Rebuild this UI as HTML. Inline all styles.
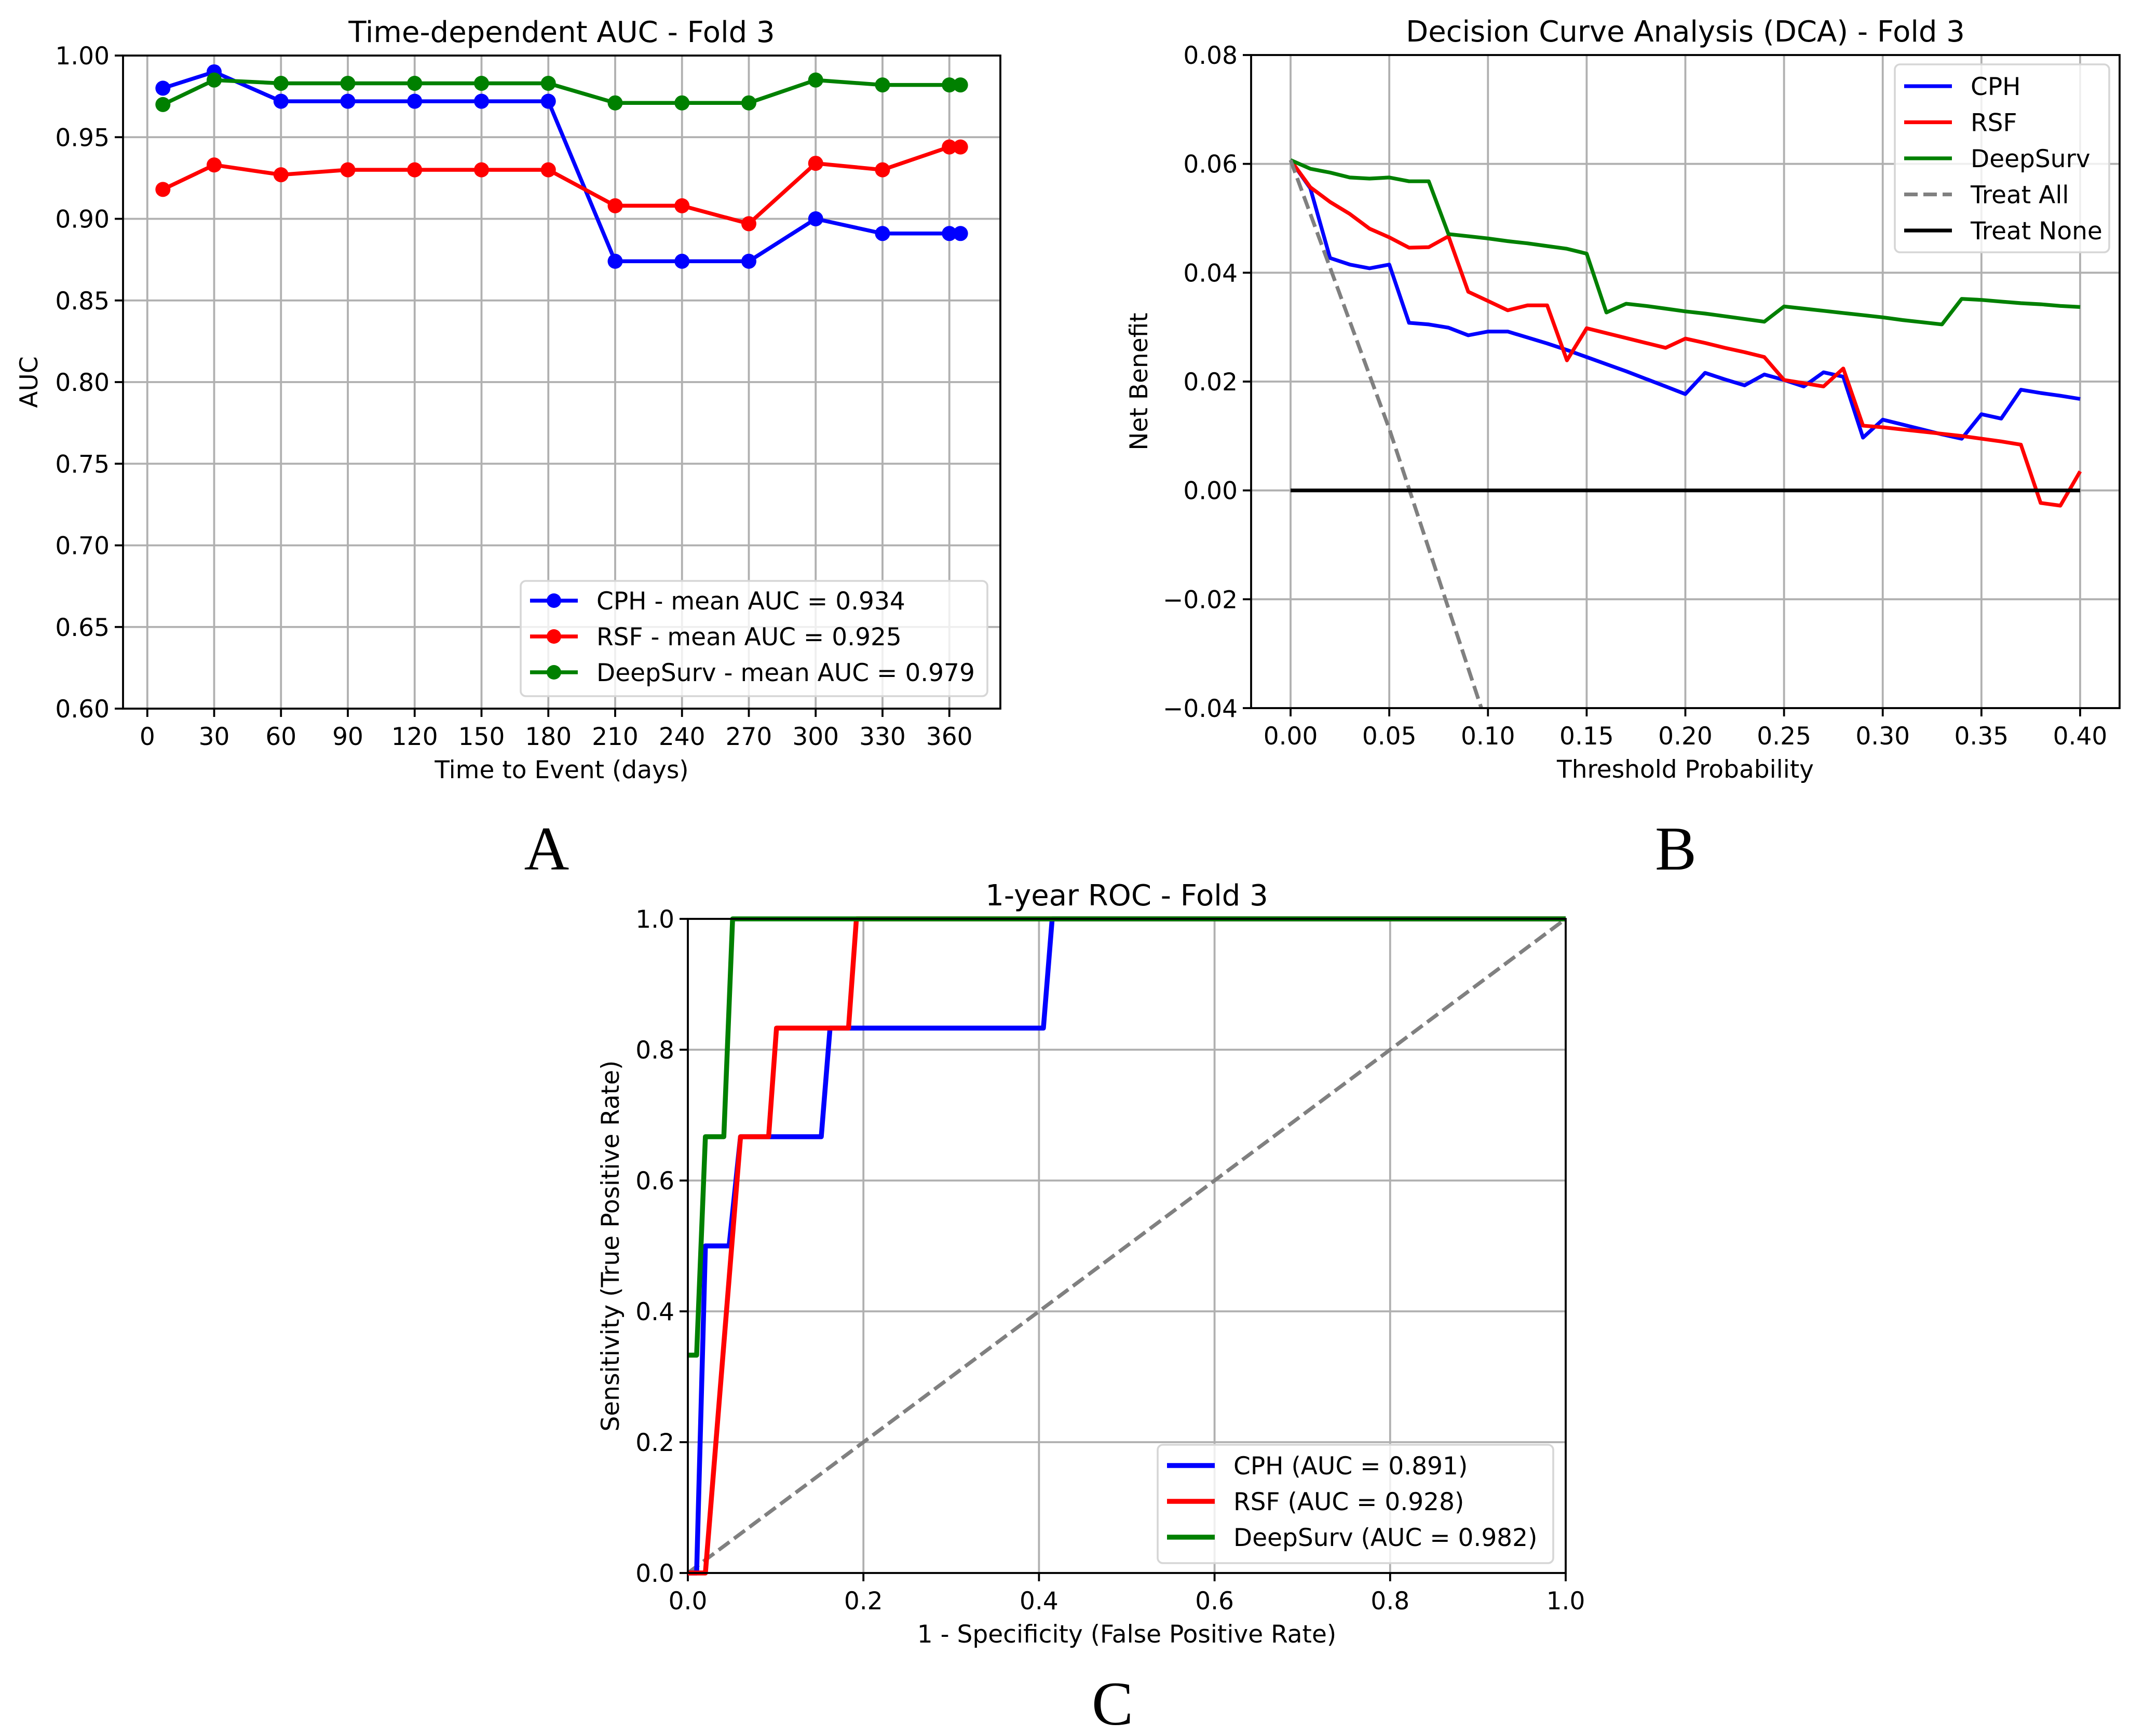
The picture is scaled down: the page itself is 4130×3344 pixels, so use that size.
<!DOCTYPE html>
<html><head><meta charset="utf-8">
<style>
html,body{margin:0;padding:0;background:#fff;}
svg{display:block;font-family:"DejaVu Sans","Liberation Sans",sans-serif;}
</style></head>
<body>
<svg id="fig" width="4130" height="3344" viewBox="0 0 4130 3344" xmlns="http://www.w3.org/2000/svg">
<rect width="4130" height="3344" fill="#fff"/>
<defs>
<clipPath id="clipB"><rect x="2410" y="106" width="1673" height="1258"/></clipPath>
</defs>
<text x="1053" y="1675" font-family="Liberation Serif, serif" font-size="120" text-anchor="middle">A</text>
<text x="3228" y="1675" font-family="Liberation Serif, serif" font-size="120" text-anchor="middle">B</text>
<text x="2143" y="3322" font-family="Liberation Serif, serif" font-size="120" text-anchor="middle">C</text>
</svg>
<script>
// ---- Panel A data ----
const aDays = [7,30,60,90,120,150,180,210,240,270,300,330,360,365];
const aCPH = [0.980,0.990,0.972,0.972,0.972,0.972,0.972,0.874,0.874,0.874,0.900,0.891,0.891,0.891];
const aRSF = [0.918,0.933,0.927,0.930,0.930,0.930,0.930,0.908,0.908,0.897,0.934,0.930,0.944,0.944];
const aDeep = [0.970,0.985,0.983,0.983,0.983,0.983,0.983,0.971,0.971,0.971,0.985,0.982,0.982,0.982];
const aXTicks = [0,30,60,90,120,150,180,210,240,270,300,330,360];
const aYTicks = [0.60,0.65,0.70,0.75,0.80,0.85,0.90,0.95,1.00];
const aLegend = ["CPH - mean AUC = 0.934","RSF - mean AUC = 0.925","DeepSurv - mean AUC = 0.979"];
// ---- Panel B data ----
const bThresh = [0,0.01,0.02,0.03,0.04,0.05,0.06,0.07,0.08,0.09,0.10,0.11,0.12,0.13,0.14,0.15,0.16,0.17,0.18,0.19,0.20,0.21,0.22,0.23,0.24,0.25,0.26,0.27,0.28,0.29,0.30,0.31,0.32,0.33,0.34,0.35,0.36,0.37,0.38,0.39,0.40];
const bCPH = [.0607,.0555,.0427,.0415,.0408,.0415,.0308,.0305,.0299,.0285,.0292,.0292,.0281,.0270,.0258,.0245,.0232,.0219,.0205,.0191,.0177,.0216,.0204,.0193,.0213,.0203,.0191,.0217,.0209,.0097,.0130,.0121,.0112,.0103,.0095,.0140,.0132,.0185,.0179,.0174,.0168];
const bRSF = [.0607,.0557,.0530,.0508,.0481,.0465,.0446,.0447,.0467,.0365,.0348,.0331,.0340,.0340,.0239,.0298,.0289,.0280,.0271,.0262,.0279,.0271,.0262,.0254,.0245,.0203,.0197,.0191,.0224,.0119,.0116,.0112,.0108,.0104,.0100,.0095,.0090,.0084,-.0023,-.0028,.0035];
const bDeep = [.0607,.0591,.0584,.0575,.0573,.0575,.0568,.0568,.0471,.0467,.0463,.0458,.0454,.0449,.0444,.0435,.0327,.0343,.0339,.0334,.0329,.0325,.0320,.0315,.0310,.0338,.0334,.0330,.0326,.0322,.0318,.0313,.0309,.0305,.0352,.0350,.0347,.0344,.0342,.0339,.0337];
const bAllX = [0,0.05,0.10,0.15];
const bAllY = [0.0607,0.0113,-0.0437,-0.1050];
const bNoneX = [0,0.40];
const bNoneY = [0,0];
const bXTicks = [0,0.05,0.10,0.15,0.20,0.25,0.30,0.35,0.40];
const bYTicks = [-0.04,-0.02,0.00,0.02,0.04,0.06,0.08];
const bLegend = ["CPH","RSF","DeepSurv","Treat All","Treat None"];
// ---- Panel C data ----
const cCPHx = [0,0.01,0.02,0.047,0.06,0.152,0.162,0.405,0.415,1];
const cCPHy = [0,0,0.5,0.5,0.667,0.667,0.833,0.833,1,1];
const cRSFx = [0,0.02,0.06,0.092,0.101,0.183,0.192,1];
const cRSFy = [0,0,0.667,0.667,0.833,0.833,1,1];
const cDeepx = [0,0.01,0.02,0.041,0.051,1];
const cDeepy = [0.333,0.333,0.667,0.667,1,1];
const cDiagX = [0,1];
const cDiagY = [0,1];
const cXTicks = [0,0.2,0.4,0.6,0.8,1.0];
const cYTicks = [0,0.2,0.4,0.6,0.8,1.0];
const cLegend = ["CPH (AUC = 0.891)","RSF (AUC = 0.928)","DeepSurv (AUC = 0.982)"];

const NS="http://www.w3.org/2000/svg";
const svg=document.getElementById('fig');
const FS=47;
function mk(tag,attrs,parent){const e=document.createElementNS(NS,tag);for(const k in attrs)e.setAttribute(k,attrs[k]);(parent||svg).appendChild(e);return e;}
function txt(s,attrs,parent){const e=mk('text',attrs,parent);e.textContent=s;return e;}

function axes(cfg){
  const g=mk('g',{});
  
  
  const sx=v=>cfg.L+(v-cfg.x0)/(cfg.x1-cfg.x0)*(cfg.R-cfg.L);
  const sy=v=>cfg.B-(v-cfg.y0)/(cfg.y1-cfg.y0)*(cfg.B-cfg.T);
  cfg.xt.forEach(v=>{const l=mk('line',{x1:sx(v),x2:sx(v),y1:cfg.T,y2:cfg.B,stroke:'#b0b0b0','stroke-width':3.8},g);
    });
  cfg.yt.forEach(v=>{const l=mk('line',{x1:cfg.L,x2:cfg.R,y1:sy(v),y2:sy(v),stroke:'#b0b0b0','stroke-width':3.8},g);
    });
  cfg.xt.forEach(v=>{mk('line',{x1:sx(v),x2:sx(v),y1:cfg.B,y2:cfg.B+16,stroke:'#000','stroke-width':3.8},g);
    const t=txt(cfg.xf(v),{x:sx(v),y:cfg.B+70,'font-size':FS,'text-anchor':'middle'},g);
    });
  cfg.yt.forEach(v=>{mk('line',{x1:cfg.L-16,x2:cfg.L,y1:sy(v),y2:sy(v),stroke:'#000','stroke-width':3.8},g);
    const t=txt(cfg.yf(v),{x:cfg.L-26,y:sy(v)+17,'font-size':FS,'text-anchor':'end'},g);
    });
  const tt=txt(cfg.title,{x:(cfg.L+cfg.R)/2,y:cfg.T-26,'font-size':56,'text-anchor':'middle'},g);
  
  const xl=txt(cfg.xlabel,{x:(cfg.L+cfg.R)/2,y:cfg.B+134,'font-size':FS,'text-anchor':'middle'},g);
  
  const yl=txt(cfg.ylabel,{x:0,y:0,'font-size':FS,'text-anchor':'middle',transform:`translate(${cfg.ylx},${(cfg.T+cfg.B)/2}) rotate(-90)`},g);
  
  return {g,sx,sy};
}
function frame(cfg,g){const r=mk('rect',{x:cfg.L,y:cfg.T,width:cfg.R-cfg.L,height:cfg.B-cfg.T,fill:'none',stroke:'#000','stroke-width':3.8},g);
  }
function line(ax,xs,ys,attrs,name,parent){
  const pts=xs.map((x,i)=>ax.sx(x).toFixed(1)+','+ax.sy(ys[i]).toFixed(1)).join(' ');
  const p=mk('polyline',Object.assign({points:pts,fill:'none','stroke-linejoin':'round'},attrs),parent||ax.g);
  return p;}
function legend(x,y,w,h,items,gap,fs,lineW,parent){
  const g=mk('g',{},parent);
  
  mk('rect',{x,y,width:w,height:h,rx:10,fill:'#fff','fill-opacity':0.8,stroke:'#d6d6d6','stroke-width':3.6},g);
  items.forEach((it,i)=>{const cy=y+it.off+i*gap;
    const e=mk('g',{},g);
    
    const a={x1:x+18,x2:x+110,y1:cy,y2:cy,stroke:it.c,'stroke-width':lineW};
    if(it.dash)a['stroke-dasharray']=it.dash;
    mk('line',a,e);
    if(it.m)mk('circle',{cx:x+64,cy,r:14,fill:it.c},e);
    txt(it.t,{x:x+146,y:cy+17,'font-size':fs},e);});
}

// ---- Panel A ----
const cA={name:'time-dependent-auc-chart',L:237,R:1927,T:107,B:1365,x0:-10.9,x1:382.9,y0:0.60,y1:1.00,xt:aXTicks,yt:aYTicks,
 xf:v=>String(v),yf:v=>v.toFixed(2),title:'Time-dependent AUC - Fold 3',xlabel:'Time to Event (days)',ylabel:'AUC',ylx:72};
const axA=axes(cA);
[[aCPH,'#0000ff','cph'],[aRSF,'#ff0000','rsf'],[aDeep,'#008000','deepsurv']].forEach(([ys,c,n])=>{
  line(axA,aDays,ys,{stroke:c,'stroke-width':7.5},'line-'+n);
  aDays.forEach((d,i)=>{const m=mk('circle',{cx:axA.sx(d),cy:axA.sy(ys[i]),r:14.5,fill:c},axA.g);
    });
});
frame(cA,axA.g);
legend(1003,1119,899,222,[{c:'#0000ff',t:aLegend[0],m:1,off:38},{c:'#ff0000',t:aLegend[1],m:1,off:38},{c:'#008000',t:aLegend[2],m:1,off:38}],69,FS,7.5,axA.g);

// ---- Panel B ----
const cB={name:'decision-curve-chart',L:2410,R:4083,T:106,B:1364,x0:-0.02,x1:0.42,y0:-0.04,y1:0.08,xt:bXTicks,yt:bYTicks,
 xf:v=>v.toFixed(2),yf:v=>(v<0?'\u2212':'')+Math.abs(v).toFixed(2),title:'Decision Curve Analysis (DCA) - Fold 3',xlabel:'Threshold Probability',ylabel:'Net Benefit',ylx:2210};
const axB=axes(cB);
const gB=mk('g',{'clip-path':'url(#clipB)'},axB.g);

line(axB,bThresh,bCPH,{stroke:'#0000ff','stroke-width':7.2},'line-cph',gB);
line(axB,bThresh,bRSF,{stroke:'#ff0000','stroke-width':7.2},'line-rsf',gB);
line(axB,bThresh,bDeep,{stroke:'#008000','stroke-width':7.2},'line-deepsurv',gB);
line(axB,bAllX,bAllY,{stroke:'#808080','stroke-width':7.2,'stroke-dasharray':'26,11'},'line-treat-all',gB);
line(axB,bNoneX,bNoneY,{stroke:'#000','stroke-width':7.2},'line-treat-none',gB);
frame(cB,axB.g);
legend(3650,124,413,362,[{c:'#0000ff',t:bLegend[0],off:42},{c:'#ff0000',t:bLegend[1],off:42},{c:'#008000',t:bLegend[2],off:42},{c:'#808080',t:bLegend[3],dash:'26,11',off:42},{c:'#000',t:bLegend[4],off:42}],69.5,FS,7.2,axB.g);

// ---- Panel C ----
const cC={name:'roc-chart',L:1325,R:3016,T:1770,B:3030,x0:0,x1:1,y0:0,y1:1,xt:cXTicks,yt:cYTicks,
 xf:v=>v.toFixed(1),yf:v=>v.toFixed(1),title:'1-year ROC - Fold 3',xlabel:'1 - Specificity (False Positive Rate)',ylabel:'Sensitivity (True Positive Rate)',ylx:1192};
const axC=axes(cC);
line(axC,cDiagX,cDiagY,{stroke:'#808080','stroke-width':7.2,'stroke-dasharray':'26,11'},'line-chance');
line(axC,cCPHx,cCPHy,{stroke:'#0000ff','stroke-width':9.5},'roc-cph');
line(axC,cRSFx,cRSFy,{stroke:'#ff0000','stroke-width':9.5},'roc-rsf');
line(axC,cDeepx,cDeepy,{stroke:'#008000','stroke-width':9.5},'roc-deepsurv');
frame(cC,axC.g);
legend(2230,2783,762,228,[{c:'#0000ff',t:cLegend[0],off:40},{c:'#ff0000',t:cLegend[1],off:40},{c:'#008000',t:cLegend[2],off:40}],69,FS,9.5,axC.g);
</script>
</body></html>
